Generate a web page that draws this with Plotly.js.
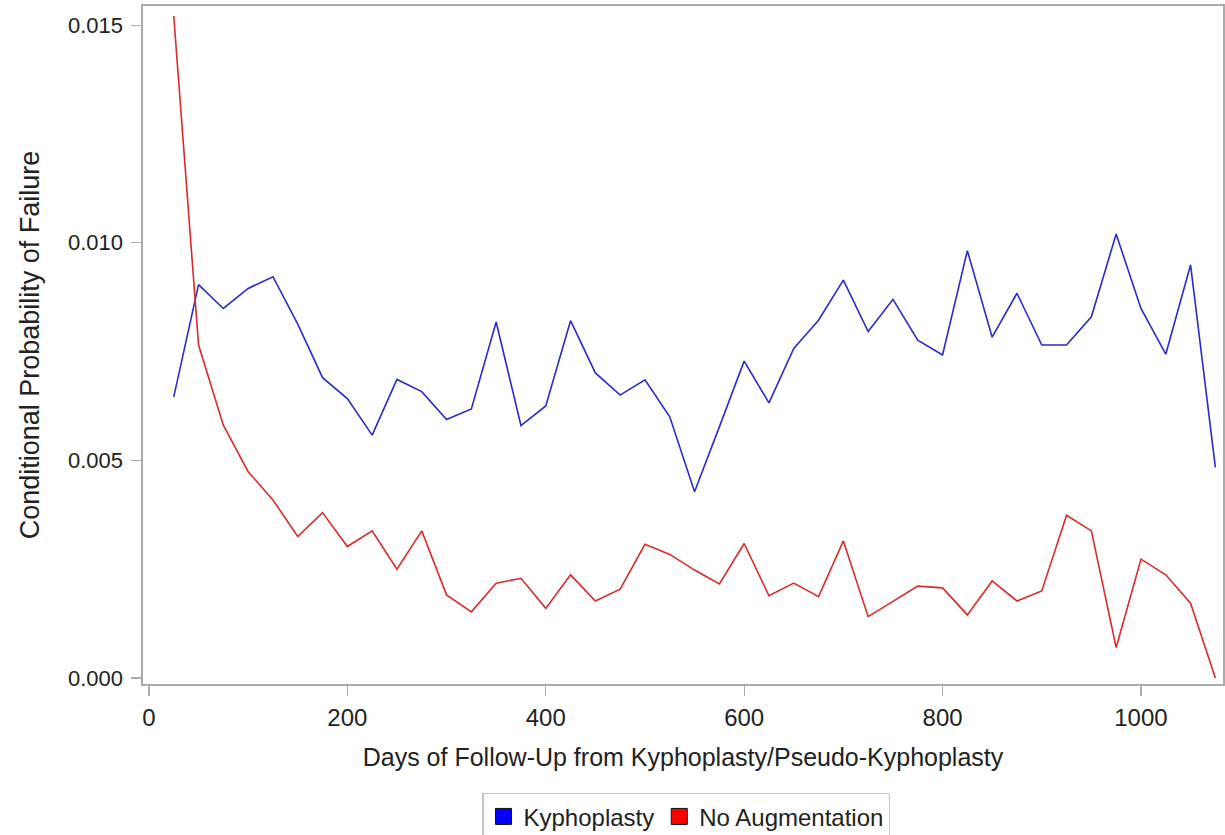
<!DOCTYPE html>
<html>
<head>
<meta charset="utf-8">
<script src="https://cdn.plot.ly/plotly-3.0.1.min.js"></script>
<style>
html,body{margin:0;padding:0;background:#fff;}
#chart{width:1225px;height:835px;}
</style>
</head>
<body>
<div id="chart"></div>
<script>
const days = [25,50,75,100,125,150,175,200,225,250,275,300,325,350,375,400,425,450,475,500,525,550,575,600,625,650,675,700,725,750,775,800,825,850,875,900,925,950,975,1000,1025,1050,1075];
const kyphoplasty = [0.00646,0.00904,0.00849,0.00895,0.00922,0.00813,0.00690,0.00642,0.00558,0.00686,0.00658,0.00594,0.00618,0.00818,0.00580,0.00625,0.00821,0.00701,0.00650,0.00685,0.00600,0.00428,0.00577,0.00728,0.00632,0.00757,0.00822,0.00914,0.00796,0.00870,0.00776,0.00742,0.00982,0.00783,0.00884,0.00765,0.00765,0.00830,0.01020,0.00849,0.00744,0.00949,0.00484];
const noAugmentation = [0.01521,0.00765,0.00581,0.00474,0.00409,0.00325,0.00380,0.00302,0.00338,0.00250,0.00338,0.00191,0.00152,0.00218,0.00229,0.00160,0.00237,0.00177,0.00204,0.00307,0.00284,0.00248,0.00216,0.00309,0.00189,0.00218,0.00187,0.00315,0.00141,0.00175,0.00211,0.00207,0.00145,0.00223,0.00177,0.00200,0.00374,0.00338,0.00070,0.00273,0.00237,0.00172,0.00000];
const seriesNames = ["Kyphoplasty","No Augmentation"];
const xTicks = [0,200,400,600,800,1000];
const yTicks = [0,0.005,0.010,0.015];

const font = "Liberation Sans, Arial, sans-serif";
const traces = [
  {x: days, y: kyphoplasty, mode: "lines", name: seriesNames[0], showlegend: false,
   line: {color: "#2a2ad2", width: 1.6}},
  {x: days, y: noAugmentation, mode: "lines", name: seriesNames[1], showlegend: false,
   line: {color: "#dc2a2a", width: 1.6}},
  {x: [null], y: [null], mode: "markers", name: seriesNames[0], showlegend: true,
   marker: {symbol: "square", size: 16, color: "#0000ff", line: {color: "#111", width: 1}}},
  {x: [null], y: [null], mode: "markers", name: seriesNames[1], showlegend: true,
   marker: {symbol: "square", size: 16, color: "#ff0000", line: {color: "#111", width: 1}}}
];

const axisCommon = {
  showgrid: false, zeroline: false, showline: true, mirror: true,
  linecolor: "#ababab", linewidth: 1.6,
  ticks: "outside", ticklen: 10, tickcolor: "#ababab", tickwidth: 1.2
};

const layout = {
  width: 1225, height: 835,
  paper_bgcolor: "#fff", plot_bgcolor: "#fff",
  margin: {l: 143, r: 2, t: 6, b: 151},
  font: {family: font, color: "#222"},
  xaxis: Object.assign({}, axisCommon, {
    range: [-6, 1082.7], tickvals: xTicks, ticktext: xTicks.map(String),
    tickfont: {family: font, size: 24, color: "#222"},
    ticklabelstandoff: 2,
    title: {text: "Days of Follow-Up from Kyphoplasty/Pseudo-Kyphoplasty", font: {family: font, size: 25, color: "#222"}, standoff: 18},
    automargin: false
  }),
  yaxis: Object.assign({}, axisCommon, {
    range: [-0.000138, 0.01544], tickvals: yTicks, tickformat: ".3f",
    tickfont: {family: font, size: 22, color: "#222"},
    ticklabelstandoff: 4,
    title: {text: "Conditional Probability of Failure", font: {family: font, size: 27, color: "#222"}, standoff: 20},
    automargin: false
  }),
  legend: {
    orientation: "h", xref: "container", yref: "container",
    x: 0.56, xanchor: "center", y: 0.0505, yanchor: "top",
    bordercolor: "#c4c4c4", borderwidth: 1.5,
    font: {family: font, size: 24, color: "#222"},
    itemwidth: 30, tracegroupgap: 0
  },
  showlegend: true
};

Plotly.newPlot("chart", traces, layout, {displayModeBar: false, staticPlot: true});
</script>
</body>
</html>
